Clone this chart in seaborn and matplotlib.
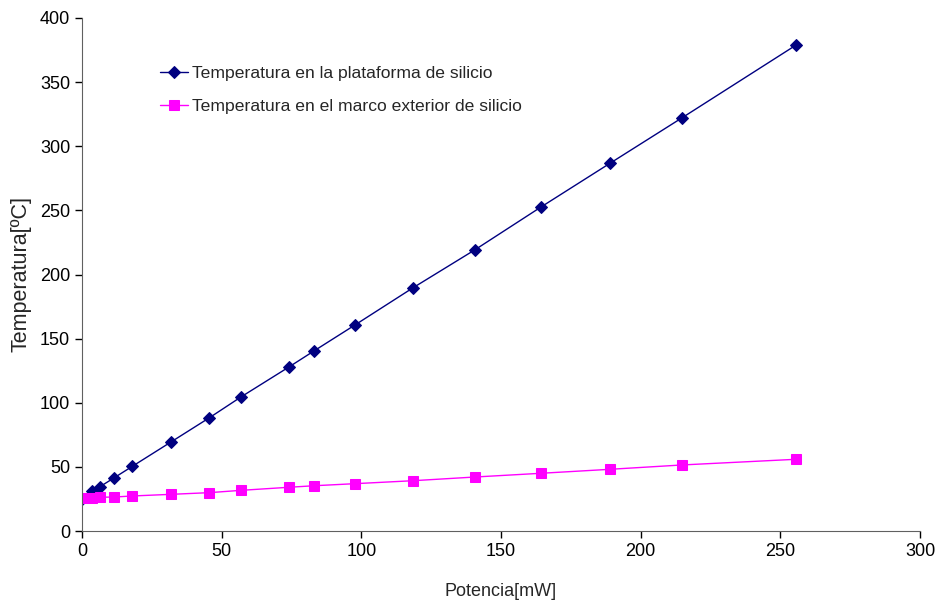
import matplotlib
matplotlib.use("Agg")
import matplotlib.pyplot as plt
import seaborn as sns
import pandas as pd

# Datos
potencia = [0, 3.7, 6.4, 11.6, 18.0, 32.0, 45.6, 56.9, 74.1, 83.2, 97.7, 118.4, 140.7, 164.3, 189.0, 214.9, 255.5]
temp_plataforma = [25, 31.2, 34.5, 41.6, 50.4, 69.6, 88.3, 104.5, 127.9, 140.6, 160.6, 189.5, 219.3, 252.6, 286.7, 322.3, 378.7]
temp_marco = [25.5, 26.0, 26.3, 26.5, 27.3, 28.6, 29.9, 31.7, 34.1, 35.3, 36.9, 39.2, 42.1, 45.0, 48.1, 51.5, 55.9]

serie_1 = 'Temperatura en la plataforma de silicio'
serie_2 = 'Temperatura en el marco exterior de silicio'

df = pd.DataFrame({'potencia': potencia, serie_1: temp_plataforma, serie_2: temp_marco})

sns.set_style('ticks')
plt.rcParams['font.family'] = ['Liberation Sans', 'DejaVu Sans']

fig = plt.figure(figsize=(9.37, 6.06), dpi=100)
ax = fig.add_axes([82 / 937, 1 - 531 / 606, (920 - 82) / 937, (531 - 18) / 606])

sns.lineplot(data=df, x='potencia', y=serie_1, ax=ax, color='#000080', marker='D',
             markersize=6.5, markeredgecolor='#000080', linewidth=1, label=serie_1)
sns.lineplot(data=df, x='potencia', y=serie_2, ax=ax, color='#FF00FF', marker='s',
             markersize=7.5, markeredgecolor='#FF00FF', linewidth=1, label=serie_2)

ax.set_xlim(0, 300)
ax.set_ylim(0, 400)
ax.set_xticks(range(0, 301, 50))
ax.set_yticks(range(0, 401, 50))
ax.tick_params(labelsize=13, direction='out', length=5, width=1, colors='black')
for s in ['left', 'bottom']:
    ax.spines[s].set_color('#606060')
sns.despine(ax=ax)

ax.set_xlabel('Potencia[mW]', fontsize=13)
ax.set_ylabel('Temperatura[ºC]', fontsize=15.5)
ax.xaxis.set_label_coords(0.5, -0.101)
ax.yaxis.set_label_coords(-0.060, 0.5)

ax.legend(loc='upper left', bbox_to_anchor=(0.085, 0.921), frameon=False, fontsize=12.6,
          handlelength=1.6, handletextpad=0.2, labelspacing=1.05, borderaxespad=0)

fig.savefig('out.png', dpi=100)
